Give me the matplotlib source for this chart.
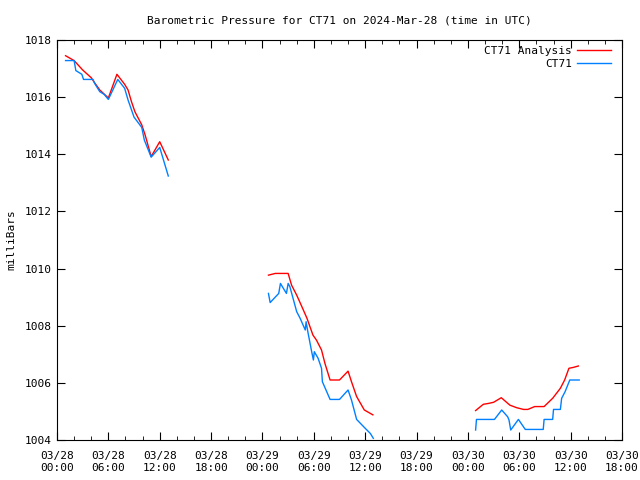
import numpy as np
import pandas as pd
import matplotlib
matplotlib.use("Agg")
import matplotlib.pyplot as plt
import matplotlib.dates as mdates

start = pd.Timestamp("2024-03-28 00:00")

# hours after 03/28 00:00 UTC; nan breaks the line where data is missing
ana_hours = [1.0, 2.0, 3.0, 4.0, 4.4, 5.0, 6.0, 7.0, 7.9, 8.3, 8.7, 9.1, 9.9, 10.3, 11.0, 12.0, 13.0,
             18.0,
             24.7, 25.5, 27.0, 27.4, 28.0, 28.6, 29.2, 29.9, 30.3, 30.9, 31.3, 31.9, 33.0, 34.0, 34.4, 35.0, 35.9, 36.9,
             42.0,
             48.9, 49.8, 50.4, 51.0, 51.9, 52.9, 53.7, 54.5, 55.0, 55.8, 56.9, 57.9, 58.8, 59.3, 59.8, 60.3, 60.9]
ana_mb = [1017.45, 1017.28, 1016.95, 1016.68, 1016.5, 1016.25, 1015.97, 1016.8, 1016.45, 1016.25, 1015.84, 1015.49, 1015.03, 1014.67, 1013.92, 1014.44, 1013.8,
          np.nan,
          1009.77, 1009.83, 1009.83, 1009.42, 1009.07, 1008.67, 1008.26, 1007.67, 1007.5, 1007.15, 1006.68, 1006.1, 1006.1, 1006.41, 1006.04, 1005.52, 1005.05, 1004.88,
          np.nan,
          1005.03, 1005.25, 1005.28, 1005.32, 1005.48, 1005.22, 1005.13, 1005.07, 1005.07, 1005.17, 1005.17, 1005.46, 1005.81, 1006.1, 1006.51, 1006.54, 1006.59]

obs_hours = [1.0, 2.0, 2.2, 2.9, 3.1, 4.2, 4.4, 5.0, 5.5, 6.0, 7.1, 7.9, 8.3, 9.0, 9.9, 10.2, 11.0, 12.0, 13.0,
             18.0,
             24.7, 24.9, 25.9, 26.1, 26.8, 27.0, 27.2, 28.0, 28.4, 29.0, 29.1, 29.3, 29.75, 29.95, 30.06, 30.5, 30.9, 31.0, 31.9, 33.0, 34.0, 34.4, 35.0, 36.0, 36.6, 36.95,
             42.0,
             48.9, 49.0, 51.1, 51.95, 52.65, 52.8, 53.0, 53.9, 54.7, 56.8, 56.9, 57.9, 58.0, 58.8, 58.95, 59.35, 59.9, 61.0]
obs_mb = [1017.28, 1017.28, 1016.93, 1016.8, 1016.62, 1016.62, 1016.48, 1016.19, 1016.1, 1015.92, 1016.62, 1016.31, 1015.9, 1015.3, 1014.94, 1014.5, 1013.9, 1014.24, 1013.24,
          np.nan,
          1009.13, 1008.81, 1009.13, 1009.48, 1009.13, 1009.48, 1009.37, 1008.49, 1008.26, 1007.85, 1008.14, 1007.79, 1007.09, 1006.8, 1007.09, 1006.86, 1006.51, 1006.04, 1005.42, 1005.42, 1005.75, 1005.4, 1004.72, 1004.41, 1004.23, 1004.06,
          np.nan,
          1004.35, 1004.72, 1004.72, 1005.05, 1004.81, 1004.7, 1004.35, 1004.72, 1004.37, 1004.37, 1004.72, 1004.72, 1005.07, 1005.07, 1005.46, 1005.69, 1006.1, 1006.1]

ana_t = [start + pd.Timedelta(hours=h) for h in ana_hours]
obs_t = [start + pd.Timedelta(hours=h) for h in obs_hours]

plt.rcParams['font.family'] = 'DejaVu Sans Mono'
plt.rcParams['font.size'] = 8

fig = plt.figure(figsize=(6.4, 4.8), dpi=100)
ax = fig.add_axes([57 / 640, 40 / 480, 565 / 640, 400 / 480])

ax.plot(ana_t, ana_mb, color='#ff0000', lw=1, label='CT71 Analysis')
ax.plot(obs_t, obs_mb, color='#0080ff', lw=1, label='CT71')

ax.set_xlim(start, start + pd.Timedelta(hours=66))
ax.set_ylim(1004, 1018)
ax.set_yticks(np.arange(1004, 1019, 2))
ax.xaxis.set_major_locator(mdates.HourLocator(byhour=[0, 6, 12, 18]))
ax.xaxis.set_minor_locator(mdates.HourLocator(byhour=range(0, 24, 2)))
ax.xaxis.set_major_formatter(mdates.DateFormatter('%m/%d\n%H:%M'))
ax.tick_params(which='both', direction='in', top=True, right=True)
ax.tick_params(which='major', length=6)
ax.tick_params(which='minor', length=3)
ax.tick_params(axis='x', pad=8)

ax.set_title('Barometric Pressure for CT71 on 2024-Mar-28 (time in UTC)', fontsize=8, pad=12)
ax.set_ylabel('milliBars', labelpad=6)

ax.legend(loc='upper right', bbox_to_anchor=(0.99, 0.998), frameon=False, markerfirst=False,
          handlelength=3, labelspacing=0.25, borderaxespad=0.1, handletextpad=0.5)

fig.savefig('out.png', dpi=100)
